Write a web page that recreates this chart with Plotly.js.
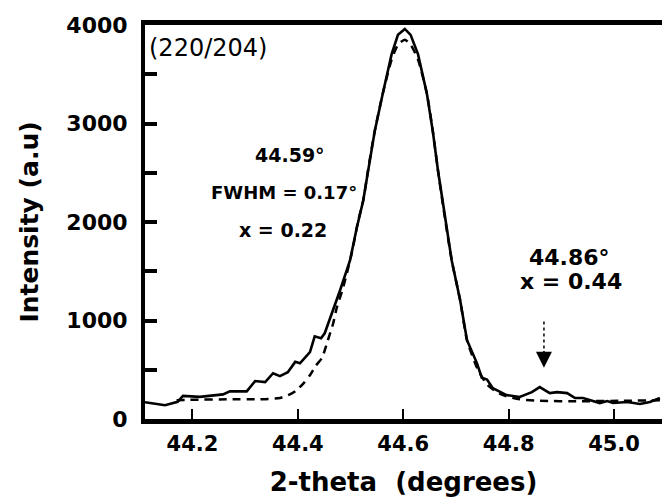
<!DOCTYPE html>
<html>
<head>
<meta charset="utf-8">
<script src="https://cdn.plot.ly/plotly-3.0.1.min.js"></script>
<style>html,body{margin:0;padding:0;background:#fff;}#chart{width:662px;height:501px;}</style>
</head>
<body>
<div id="chart"></div>
<script>
// Measured XRD profile (solid line)
const measuredTheta = [44.110,44.148,44.172,44.182,44.214,44.243,44.258,44.271,44.303,44.319,44.338,44.353,44.366,44.381,44.395,44.404,44.423,44.432,44.444,44.451,44.467,44.480,44.499,44.512,44.524,44.533,44.546,44.561,44.578,44.590,44.603,44.614,44.628,44.645,44.656,44.666,44.679,44.692,44.708,44.721,44.740,44.749,44.759,44.770,44.796,44.821,44.844,44.859,44.878,44.892,44.911,44.926,44.941,44.954,44.973,44.987,44.998,45.025,45.049,45.068,45.087];
const measuredIntensity = [170,140,175,235,225,240,250,280,280,385,375,465,435,475,580,565,680,840,820,870,1100,1305,1610,1945,2215,2520,2925,3300,3704,3900,3960,3900,3704,3300,2925,2520,2044,1610,1205,800,565,420,400,313,243,223,273,324,263,273,263,213,213,192,162,182,162,172,152,172,213];

// Fitted profile (dashed line)
const fitTheta = [44.170,44.195,44.271,44.328,44.366,44.385,44.398,44.412,44.423,44.434,44.446,44.457,44.467,44.474,44.484,44.493,44.503,44.514,44.524,44.533,44.546,44.561,44.578,44.590,44.603,44.614,44.628,44.645,44.656,44.666,44.679,44.692,44.708,44.721,44.740,44.759,44.778,44.796,44.821,44.859,44.935,45.011,45.087];
const fitIntensity = [190,195,200,200,213,250,293,370,445,540,622,800,970,1133,1300,1478,1700,2000,2215,2520,2925,3300,3650,3800,3850,3800,3650,3300,2925,2520,2044,1610,1205,800,520,350,270,230,200,185,180,185,190];

const xTickVals = [44.2,44.4,44.6,44.8,45.0];
const xTickText = ["44.2","44.4","44.6","44.8","45.0"];
const yTickVals = [0,1000,2000,3000,4000];
const yTickText = ["0","1000","2000","3000","4000"];

const FONT = "DejaVu Sans, sans-serif";

const traces = [
  {x: fitTheta, y: fitIntensity, type: 'scatter', mode: 'lines',
   line: {color: '#000', width: 2.5, dash: '8px,6px', shape: 'spline', smoothing: 0.6}, hoverinfo: 'skip'},
  {x: measuredTheta, y: measuredIntensity, type: 'scatter', mode: 'lines',
   line: {color: '#000', width: 2.6}, hoverinfo: 'skip'}
];

const layout = {
  width: 662, height: 501,
  margin: {l: 145, r: 0, t: 25, b: 82},
  paper_bgcolor: '#fff', plot_bgcolor: '#fff',
  showlegend: false,
  font: {family: FONT, color: '#000'},
  xaxis: {
    range: [44.11, 45.091], showgrid: false, zeroline: false,
    showline: true, linewidth: 5, linecolor: '#000', mirror: true,
    ticks: 'inside', ticklen: 10, tickwidth: 2, tickcolor: '#000',
    tickvals: xTickVals, ticktext: xTickText,
    ticklabelstandoff: 2,
    tickfont: {family: FONT, size: 21, color: '#000', weight: 'bold'},
    title: {text: '2-theta  (degrees)', font: {family: FONT, size: 26, color: '#000', weight: 'bold'}, standoff: 19}
  },
  yaxis: {
    range: [0, 4000], showgrid: false, zeroline: false,
    showline: true, linewidth: 4, linecolor: '#000',
    ticks: 'inside', ticklen: 12, tickwidth: 4, tickcolor: '#000',
    tickvals: yTickVals, ticktext: yTickText,
    ticklabelstandoff: 9,
    tickfont: {family: FONT, size: 22, color: '#000', weight: 'bold'},
    minor: {dtick: 500, ticks: 'inside', ticklen: 12, tickwidth: 4, tickcolor: '#000'},
    title: {text: 'Intensity (a.u)', font: {family: FONT, size: 25, color: '#000', weight: 'bold'}, standoff: 22}
  },
  shapes: [
    {type: 'line', xref: 'x', yref: 'y', x0: 44.867, x1: 44.867, y0: 990, y1: 620,
     line: {color: '#000', width: 1.5, dash: 'dot'}}
  ],
  annotations: [
    {xref: 'paper', yref: 'paper', x: 0.004, y: 0.942, xanchor: 'left', yanchor: 'middle',
     text: '(220/204)', showarrow: false, font: {family: FONT, size: 24, color: '#000'}},
    {xref: 'paper', yref: 'paper', x: 0.280, y: 0.670, xanchor: 'center', yanchor: 'middle',
     text: '<b>44.59°</b>', showarrow: false, font: {family: FONT, size: 19, color: '#000'}},
    {xref: 'paper', yref: 'paper', x: 0.269, y: 0.574, xanchor: 'center', yanchor: 'middle',
     text: '<b>FWHM = 0.17°</b>', showarrow: false, font: {family: FONT, size: 18, color: '#000'}},
    {xref: 'paper', yref: 'paper', x: 0.267, y: 0.480, xanchor: 'center', yanchor: 'middle',
     text: '<b>x = 0.22</b>', showarrow: false, font: {family: FONT, size: 19, color: '#000'}},
    {xref: 'paper', yref: 'paper', x: 0.822, y: 0.411, xanchor: 'center', yanchor: 'middle',
     text: '<b>44.86°</b>', showarrow: false, font: {family: FONT, size: 22, color: '#000'}},
    {xref: 'paper', yref: 'paper', x: 0.824, y: 0.348, xanchor: 'center', yanchor: 'middle',
     text: '<b>x = 0.44</b>', showarrow: false, font: {family: FONT, size: 22, color: '#000'}},
    {xref: 'x', yref: 'y', x: 44.867, y: 520, ax: 0, ay: -18, text: '', showarrow: true,
     arrowhead: 2, arrowsize: 1.6, arrowwidth: 2, arrowcolor: '#000'}
  ]
};

Plotly.newPlot('chart', traces, layout, {staticPlot: true, displayModeBar: false});
</script>
</body>
</html>
